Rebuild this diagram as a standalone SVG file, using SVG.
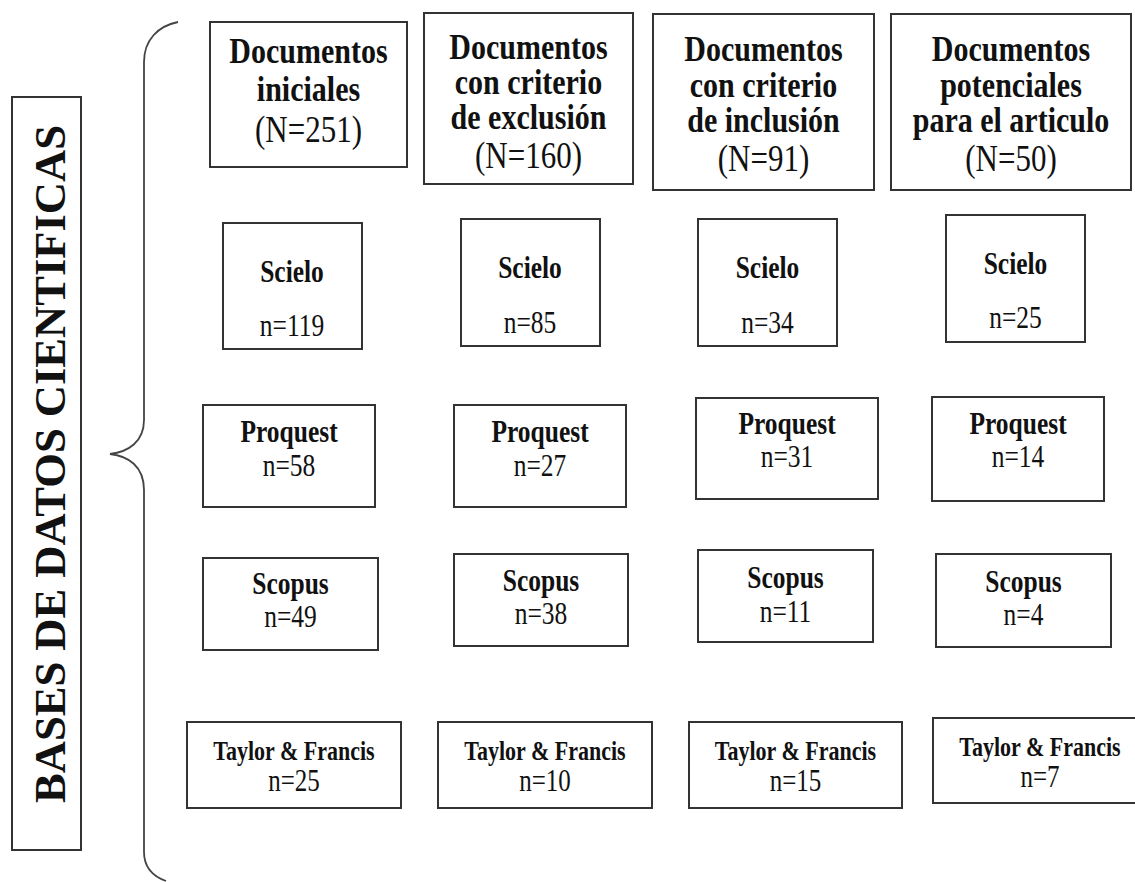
<svg xmlns="http://www.w3.org/2000/svg" width="1135" height="882" viewBox="0 0 1135 882">
<style>
  .box { fill: #ffffff; stroke: #333333; stroke-width: 2; }
  .brace { fill: none; stroke: #444444; stroke-width: 1.8; }
  text { font-family: "Liberation Serif", "Times New Roman", serif; fill: #111111; text-anchor: middle; }
  .hb { font-size: 30px; font-weight: bold; }
  .hr { font-size: 31px; font-weight: normal; }
  .sb { font-size: 25.5px; font-weight: bold; }
  .sr { font-size: 25.5px; font-weight: normal; }
  .tb { font-size: 22px; font-weight: bold; }
  .tr { font-size: 25px; font-weight: normal; }
  .side { font-size: 44px; font-weight: bold; }
</style>
<rect width="1135" height="882" fill="#ffffff"/>

<g id="side-label">
  <rect class="box" x="12" y="97" width="69" height="753"/>
  <text class="side" transform="translate(65,464) rotate(-90)" x="0" y="0" textLength="678" lengthAdjust="spacingAndGlyphs">BASES DE DATOS CIENTIFICAS</text>
</g>

<g id="connectors">
  <path class="brace" d="M178,22 C158,26 144,40 144,62 L144,420 C144,442 128,452 110,454 C128,456 144,466 144,490 L144,852 C144,866 152,876 166,881"/>
</g>

<g id="h1">
  <rect class="box" x="210" y="22" width="197" height="145"/>
  <text transform="translate(308.5,63) scale(1,1.22)"><tspan class="hb" x="0" y="0">Documentos</tspan><tspan class="hb" x="0" y="31.5">iniciales</tspan><tspan class="hr" x="0" y="65">(N=251)</tspan></text>
</g>
<g id="h2">
  <rect class="box" x="424" y="13" width="209" height="171"/>
  <text transform="translate(528.5,59) scale(1,1.22)"><tspan class="hb" x="0" y="0">Documentos</tspan><tspan class="hb" x="0" y="28.7">con criterio</tspan><tspan class="hb" x="0" y="57.4">de exclusión</tspan><tspan class="hr" x="0" y="89.3">(N=160)</tspan></text>
</g>
<g id="h3">
  <rect class="box" x="653" y="14" width="221" height="176"/>
  <text transform="translate(763.5,61) scale(1,1.22)"><tspan class="hb" x="0" y="0">Documentos</tspan><tspan class="hb" x="0" y="29.5">con criterio</tspan><tspan class="hb" x="0" y="58.2">de inclusión</tspan><tspan class="hr" x="0" y="90.2">(N=91)</tspan></text>
</g>
<g id="h4">
  <rect class="box" x="891" y="14" width="240" height="176"/>
  <text transform="translate(1011,61) scale(1,1.22)"><tspan class="hb" x="0" y="0">Documentos</tspan><tspan class="hb" x="0" y="29.5">potenciales</tspan><tspan class="hb" x="0" y="58.2">para el articulo</tspan><tspan class="hr" x="0" y="90.2">(N=50)</tspan></text>
</g>

<g id="scielo1">
  <rect class="box" x="223" y="223" width="139" height="126"/>
  <text transform="translate(292,282) scale(1,1.2)"><tspan class="sb" x="0" y="0">Scielo</tspan><tspan class="sr" x="0" y="45">n=119</tspan></text>
</g>
<g id="scielo2">
  <rect class="box" x="461" y="219" width="139" height="127"/>
  <text transform="translate(530,278) scale(1,1.2)"><tspan class="sb" x="0" y="0">Scielo</tspan><tspan class="sr" x="0" y="45.8">n=85</tspan></text>
</g>
<g id="scielo3">
  <rect class="box" x="698" y="219" width="139" height="127"/>
  <text transform="translate(767.5,278) scale(1,1.2)"><tspan class="sb" x="0" y="0">Scielo</tspan><tspan class="sr" x="0" y="45.8">n=34</tspan></text>
</g>
<g id="scielo4">
  <rect class="box" x="946" y="215" width="139" height="127"/>
  <text transform="translate(1015.5,274) scale(1,1.2)"><tspan class="sb" x="0" y="0">Scielo</tspan><tspan class="sr" x="0" y="45">n=25</tspan></text>
</g>

<g id="proquest1">
  <rect class="box" x="203" y="405" width="172" height="102"/>
  <text transform="translate(289,442) scale(1,1.2)"><tspan class="sb" x="0" y="0">Proquest</tspan><tspan class="sr" x="0" y="28.3">n=58</tspan></text>
</g>
<g id="proquest2">
  <rect class="box" x="454" y="405" width="172" height="102"/>
  <text transform="translate(540,442) scale(1,1.2)"><tspan class="sb" x="0" y="0">Proquest</tspan><tspan class="sr" x="0" y="28.3">n=27</tspan></text>
</g>
<g id="proquest3">
  <rect class="box" x="696" y="398" width="182" height="101"/>
  <text transform="translate(787,434) scale(1,1.2)"><tspan class="sb" x="0" y="0">Proquest</tspan><tspan class="sr" x="0" y="27.5">n=31</tspan></text>
</g>
<g id="proquest4">
  <rect class="box" x="932" y="397" width="172" height="104"/>
  <text transform="translate(1018,434) scale(1,1.2)"><tspan class="sb" x="0" y="0">Proquest</tspan><tspan class="sr" x="0" y="27.5">n=14</tspan></text>
</g>

<g id="scopus1">
  <rect class="box" x="203" y="558" width="175" height="92"/>
  <text transform="translate(290.5,594) scale(1,1.2)"><tspan class="sb" x="0" y="0">Scopus</tspan><tspan class="sr" x="0" y="27.5">n=49</tspan></text>
</g>
<g id="scopus2">
  <rect class="box" x="454" y="554" width="174" height="92"/>
  <text transform="translate(541,591) scale(1,1.2)"><tspan class="sb" x="0" y="0">Scopus</tspan><tspan class="sr" x="0" y="27.5">n=38</tspan></text>
</g>
<g id="scopus3">
  <rect class="box" x="698" y="550" width="175" height="92"/>
  <text transform="translate(785.5,588) scale(1,1.2)"><tspan class="sb" x="0" y="0">Scopus</tspan><tspan class="sr" x="0" y="28.3">n=11</tspan></text>
</g>
<g id="scopus4">
  <rect class="box" x="936" y="554" width="175" height="93"/>
  <text transform="translate(1023.5,592) scale(1,1.2)"><tspan class="sb" x="0" y="0">Scopus</tspan><tspan class="sr" x="0" y="27.5">n=4</tspan></text>
</g>

<g id="taylor1">
  <rect class="box" x="187" y="722" width="214" height="86"/>
  <text transform="translate(294,760) scale(1,1.25)"><tspan class="tb" x="0" y="0">Taylor &amp; Francis</tspan><tspan class="tr" x="0" y="24.8">n=25</tspan></text>
</g>
<g id="taylor2">
  <rect class="box" x="438" y="722" width="214" height="86"/>
  <text transform="translate(545,760) scale(1,1.25)"><tspan class="tb" x="0" y="0">Taylor &amp; Francis</tspan><tspan class="tr" x="0" y="24.8">n=10</tspan></text>
</g>
<g id="taylor3">
  <rect class="box" x="689" y="722" width="213" height="86"/>
  <text transform="translate(795.5,760) scale(1,1.25)"><tspan class="tb" x="0" y="0">Taylor &amp; Francis</tspan><tspan class="tr" x="0" y="24.8">n=15</tspan></text>
</g>
<g id="taylor4">
  <rect class="box" x="933" y="718" width="212" height="85"/>
  <text transform="translate(1040,756) scale(1,1.25)"><tspan class="tb" x="0" y="0">Taylor &amp; Francis</tspan><tspan class="tr" x="0" y="24.8">n=7</tspan></text>
</g>
</svg>
